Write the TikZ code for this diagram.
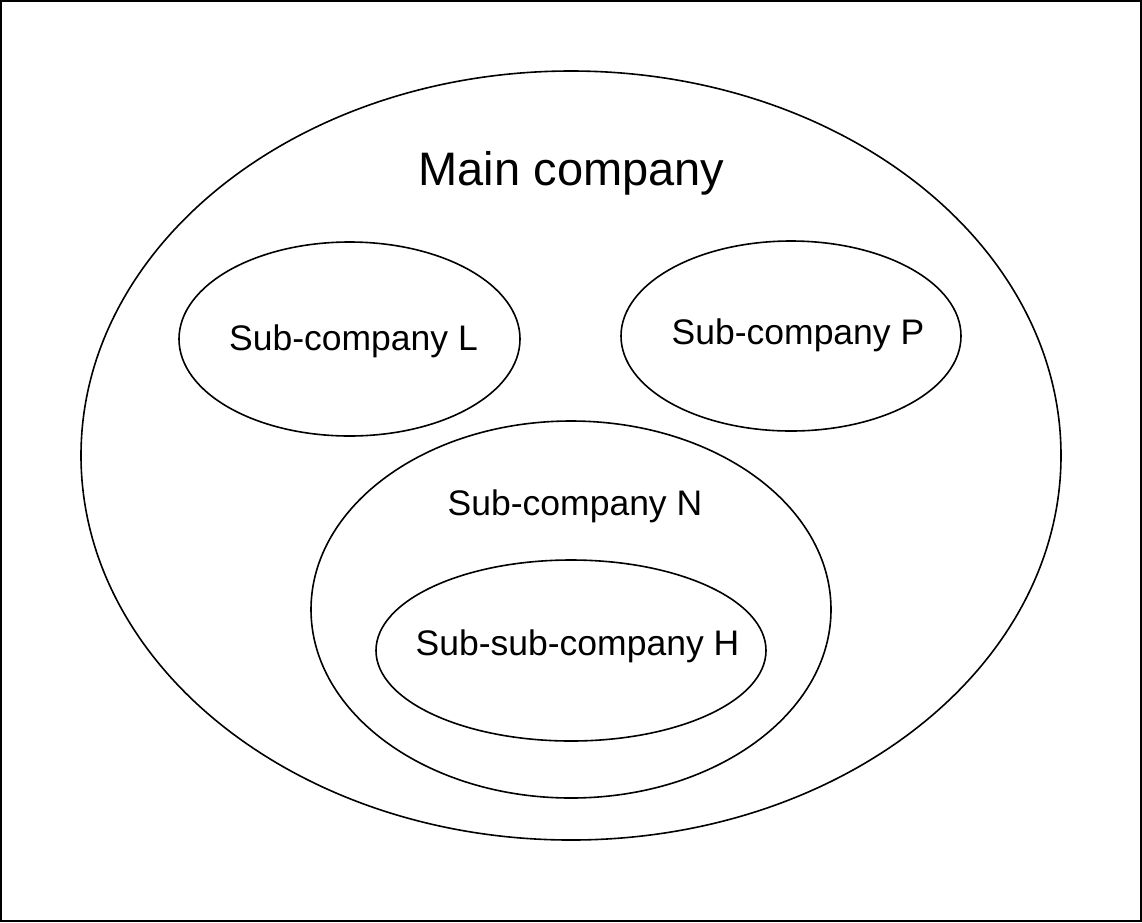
\documentclass[tikz,border=0pt]{standalone}
\usepackage{fontspec}
\setmainfont{Liberation Sans}
\usetikzlibrary{shapes.geometric}
\begin{document}
\begin{tikzpicture}[x=1pt,y=-1pt,
  blob/.style={draw=black,line width=1.6pt,ellipse,inner sep=0pt},
  lab/.style={anchor=base,inner sep=0pt,font=\fontsize{35.5}{40}\selectfont},
  biglab/.style={anchor=base,inner sep=0pt,font=\fontsize{47}{54}\selectfont}]
\useasboundingbox (0,0) rectangle (1142,922);
\draw[line width=1.6pt] (1,1) rectangle (1141,921);
\node[blob,minimum width=980pt,minimum height=769pt] (main) at (571,455.5) {};
\node[blob,minimum width=341pt,minimum height=194pt] (L) at (349.5,339) {};
\node[blob,minimum width=340pt,minimum height=190pt] (P) at (791,336) {};
\node[blob,minimum width=520pt,minimum height=377pt] (N) at (571,609.5) {};
\node[blob,minimum width=390pt,minimum height=181pt] (H) at (571,650.5) {};
\node[biglab] (mainlab) at (571.5,185) {Main company};
\node[lab] (Llab) at (353.5,350) {Sub-company L};
\node[lab] (Plab) at (798,344) {Sub-company P};
\node[lab] (Nlab) at (575,515) {Sub-company N};
\node[lab] (Hlab) at (577.5,655) {Sub-sub-company H};
\end{tikzpicture}
\end{document}
